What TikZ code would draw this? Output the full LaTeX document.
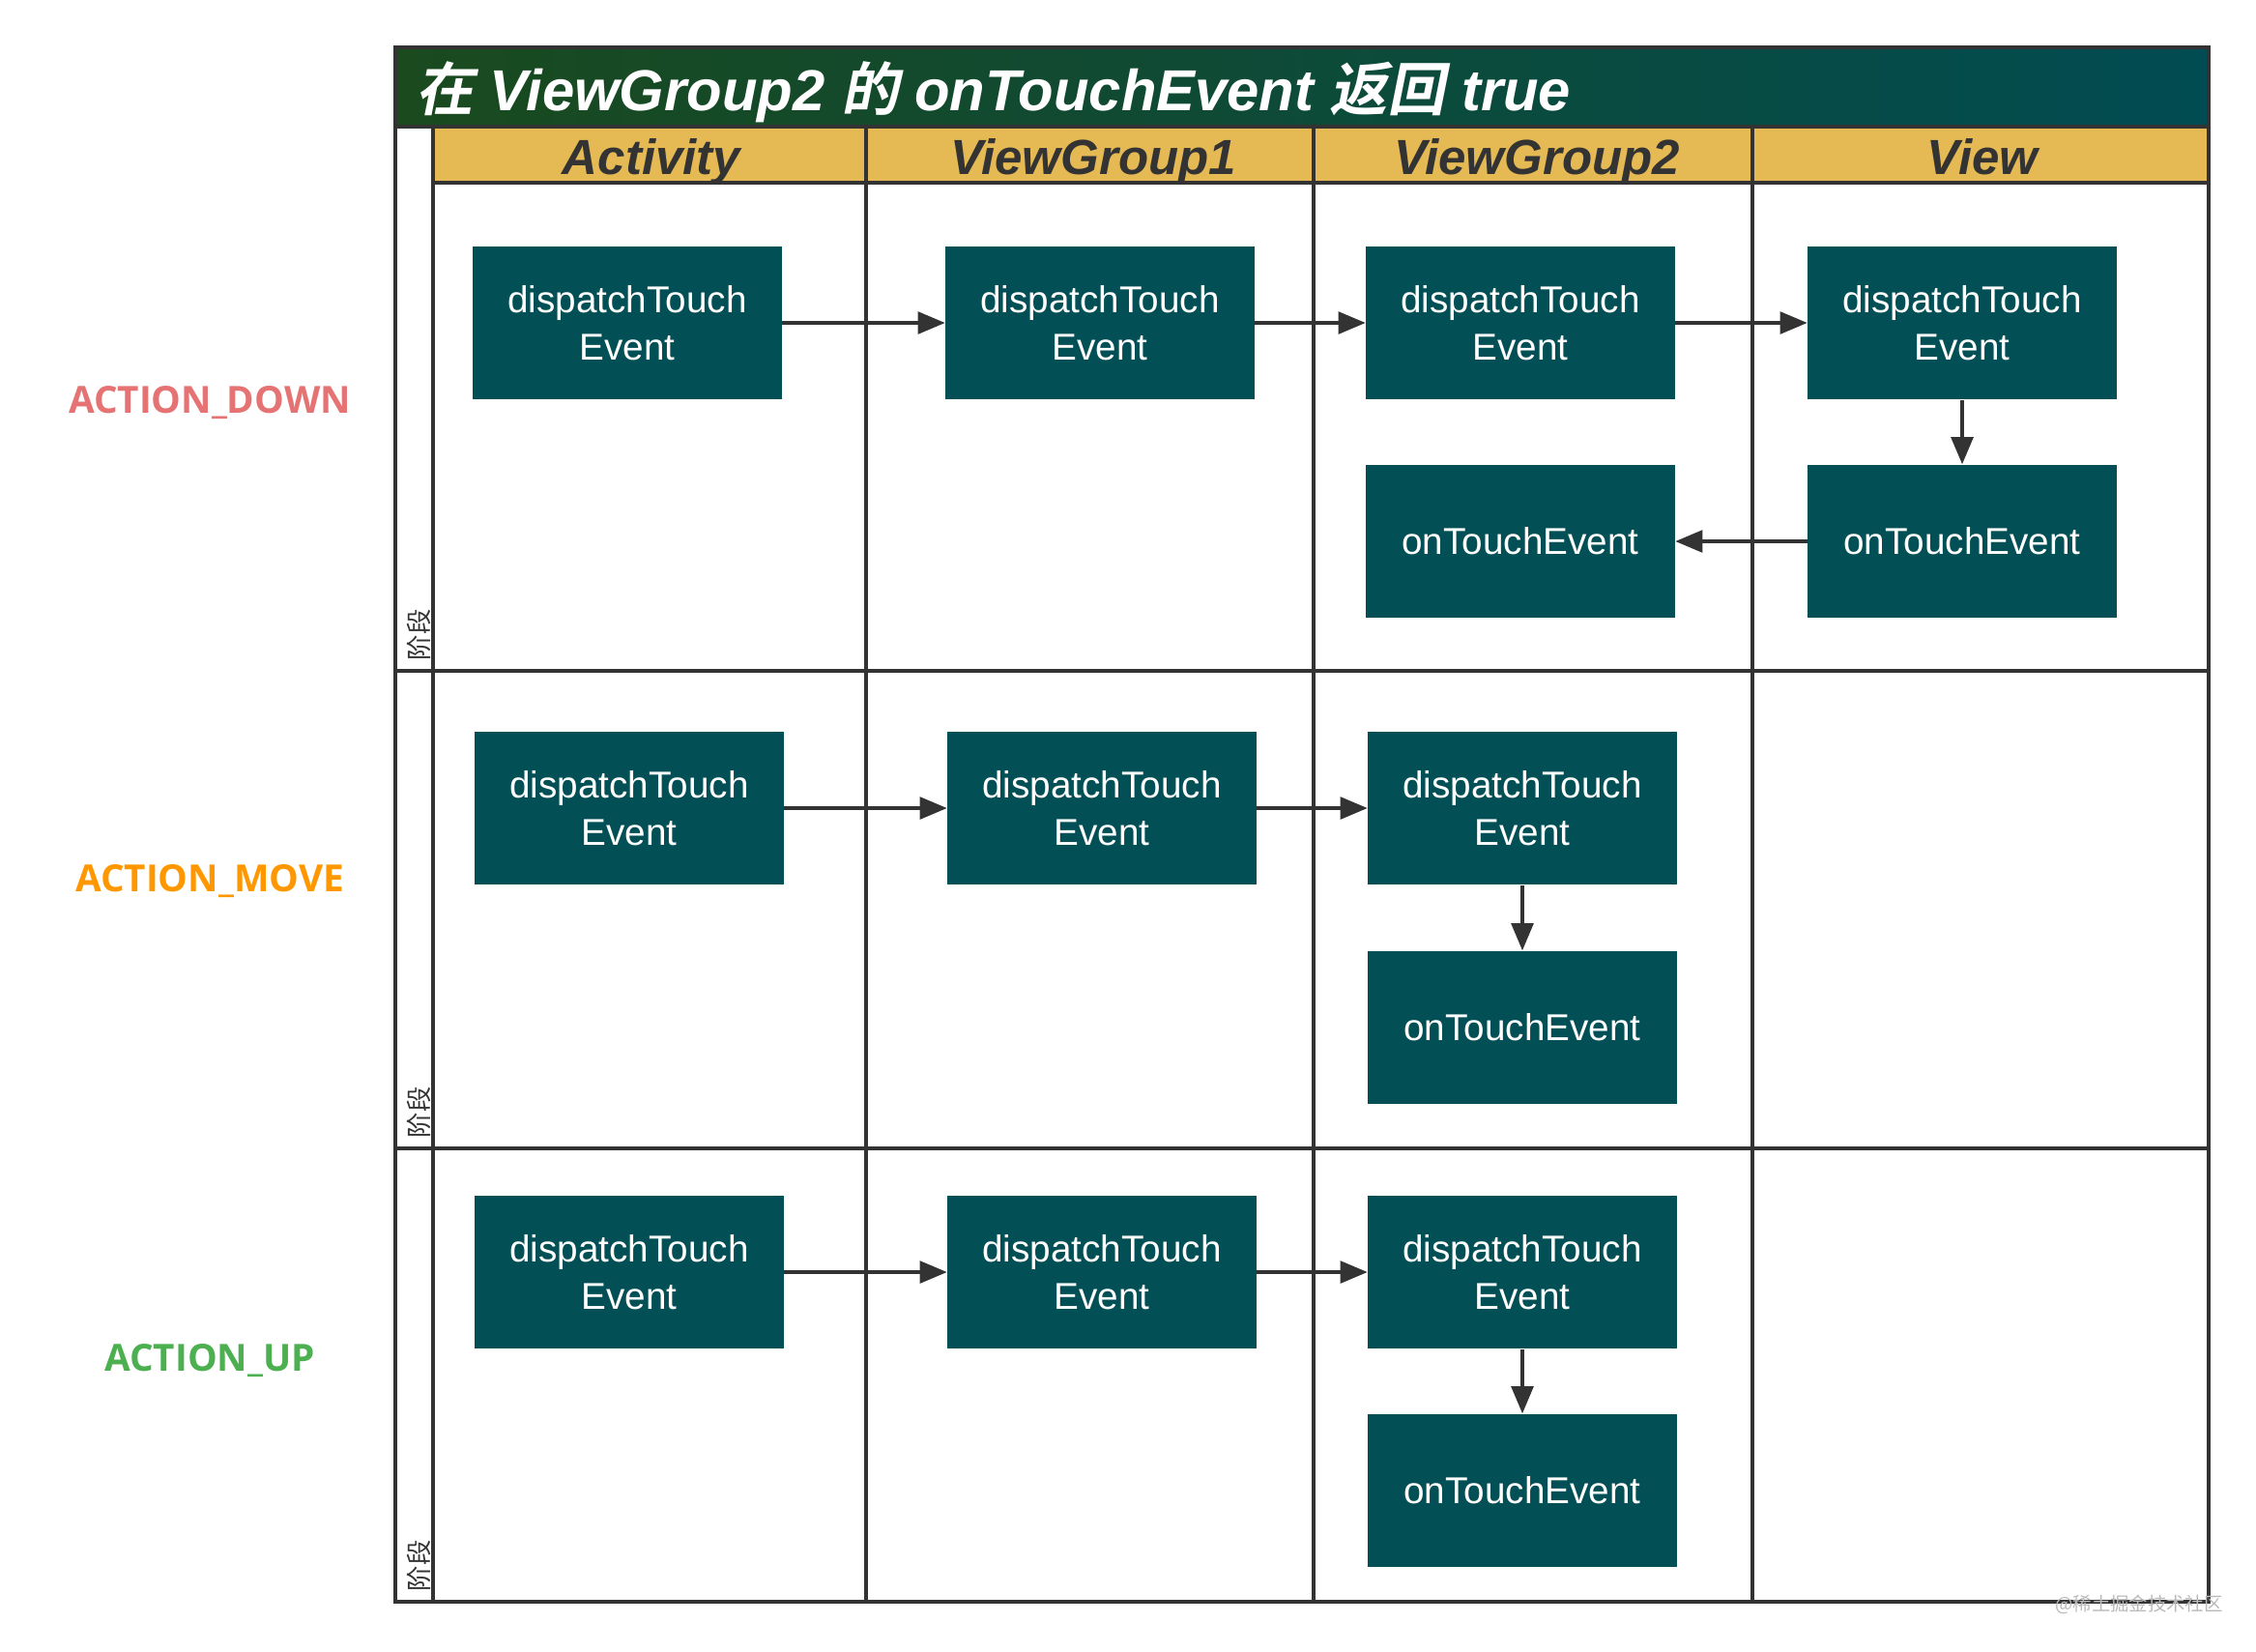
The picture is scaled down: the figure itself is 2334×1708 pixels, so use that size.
\documentclass[tikz,border=0pt]{standalone}
\usepackage{fontspec}
\setmainfont{Liberation Sans}
\newfontfamily\cjk{Noto Sans CJK SC}
\newfontfamily\zhfont{Noto Sans CJK SC}[UprightFont=* Bold,FakeSlant=0.2]
\newfontfamily\labelfont{Open Sans}
\usetikzlibrary{arrows.meta}
\definecolor{line}{HTML}{333333}
\definecolor{box}{HTML}{024F55}
\definecolor{head}{HTML}{E5B953}
\definecolor{tl}{HTML}{1A4A1E}
\definecolor{tr}{HTML}{014B52}
\definecolor{down}{HTML}{E57373}
\definecolor{move}{HTML}{FF9800}
\definecolor{up}{HTML}{4CAF50}
\newcommand{\zh}[1]{{\zhfont\upshape\mdseries #1}}

\begin{document}
\begin{tikzpicture}[x=0.01cm,y=-0.01cm,>={Triangle[length=8pt,width=6.5pt]},
    grid/.style={draw=line,line width=0.9pt},
    flow/.style={draw=line,line width=0.9pt,->},
    fn/.style={fill=box,text=white,minimum width=3.19cm,minimum height=1.58cm,
      inner sep=0pt,align=center,font=\fontsize{11}{14}\selectfont},
    col/.style={font=\bfseries\itshape\fontsize{14.5}{16}\selectfont,text=line,anchor=base},
    act/.style={font=\labelfont\bfseries\fontsize{11}{13}\selectfont},
    stage/.style={font=\cjk\fontsize{7.5}{9}\selectfont,text=line,rotate=90,
      anchor=west,inner sep=0pt}]
    \useasboundingbox (0,0) rectangle (2334,1708);
    \shade[left color=tl,right color=tr] (409,49) rectangle (2285,131);
    \fill[head] (448,131) rectangle (2285,189);
    \draw[grid] (409,131) -- (2285,131);
    \draw[grid] (448,189) -- (2285,189);
    \draw[grid] (448,131) -- (448,1657);
    \draw[grid] (896,131) -- (896,1657);
    \draw[grid] (1359,131) -- (1359,1657);
    \draw[grid] (1813,131) -- (1813,1657);
    \draw[grid] (409,694) -- (2285,694);
    \draw[grid] (409,1188) -- (2285,1188);
    \draw[grid,line width=1.2pt] (409,49) rectangle (2285,1657);

    \node[text=white,anchor=west,font=\bfseries\itshape\fontsize{17}{20}\selectfont] (title) at (418,95)
      {\zh{在} ViewGroup2 \zh{的} onTouchEvent \zh{返回} true};
    \node[col] (hact) at (674,180) {Activity};
    \node[col] (hg1) at (1131,180) {ViewGroup1};
    \node[col] (hg2) at (1590,180) {ViewGroup2};
    \node[col] (hview) at (2051,180) {View};

    \node[act,text=down] (ldown) at (217,417) {ACTION\_DOWN};
    \node[act,text=move] (lmove) at (217,912) {ACTION\_MOVE};
    \node[act,text=up] (lup) at (217,1408) {ACTION\_UP};

    \node[stage] (s1) at (433,684) {阶段};
    \node[stage] (s2) at (433,1178) {阶段};
    \node[stage] (s3) at (433,1647) {阶段};

    \node[fn] (ad) at (649,334) {dispatchTouch\\Event};
    \node[fn] (g1d) at (1138,334) {dispatchTouch\\Event};
    \node[fn] (g2d) at (1573,334) {dispatchTouch\\Event};
    \node[fn] (vd) at (2030,334) {dispatchTouch\\Event};
    \node[fn] (g2dt) at (1573,560) {onTouchEvent};
    \node[fn] (vdt) at (2030,560) {onTouchEvent};
    \draw[flow] (ad) -- (g1d);
    \draw[flow] (g1d) -- (g2d);
    \draw[flow] (g2d) -- (vd);
    \draw[flow] (vd) -- (vdt);
    \draw[flow] (vdt) -- (g2dt);

    \node[fn] (am) at (651,836) {dispatchTouch\\Event};
    \node[fn] (g1m) at (1140,836) {dispatchTouch\\Event};
    \node[fn] (g2m) at (1575,836) {dispatchTouch\\Event};
    \node[fn] (g2mt) at (1575,1063) {onTouchEvent};
    \draw[flow] (am) -- (g1m);
    \draw[flow] (g1m) -- (g2m);
    \draw[flow] (g2m) -- (g2mt);

    \node[fn] (au) at (651,1316) {dispatchTouch\\Event};
    \node[fn] (g1u) at (1140,1316) {dispatchTouch\\Event};
    \node[fn] (g2u) at (1575,1316) {dispatchTouch\\Event};
    \node[fn] (g2ut) at (1575,1542) {onTouchEvent};
    \draw[flow] (au) -- (g1u);
    \draw[flow] (g1u) -- (g2u);
    \draw[flow] (g2u) -- (g2ut);

    \node[font=\cjk\fontsize{5.5}{6}\selectfont,text=gray!55] (mark) at (2213,1660) {@稀土掘金技术社区};
\end{tikzpicture}
\end{document}
